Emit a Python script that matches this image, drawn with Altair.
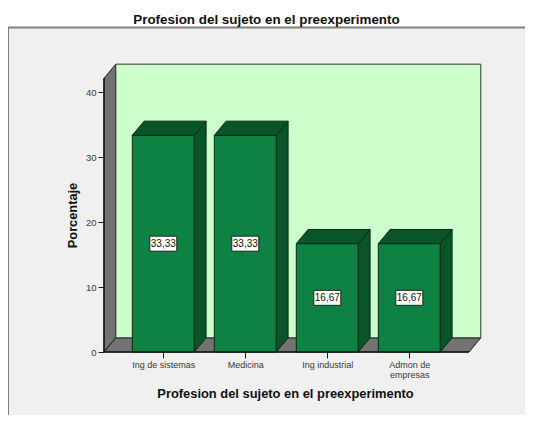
import json
import altair as alt
import pandas as pd

categories = ["Ing de sistemas", "Medicina", "Ing industrial", "Admon de empresas"]
tick_labels = [["Ing de sistemas"], ["Medicina"], ["Ing industrial"], ["Admon de", "empresas"]]
values = [33.33, 33.33, 16.67, 16.67]
value_labels = ["33,33", "33,33", "16,67", "16,67"]
y_ticks = [0, 10, 20, 30, 40]

PX = 82.0      # pixels per category
PY = 6.5       # pixels per percent
CX0 = 163.3    # pixel of first category
DX = 11.8 / PX  # 3D depth in x units
DY = 14.2 / PY  # 3D depth in y units
HALF = 31.0 / PX
XL = (104 - CX0) / PX
XR = (469 - CX0) / PX
YTOP = 42.1
BOXW = 13.5 / PX
BOXH = 7.5 / PY
PAGE_RIGHT = 525
PAGE_BOTTOM = 415

xs = alt.Scale(domain=[(8 - CX0) / PX, (PAGE_RIGHT - CX0) / PX], nice=False, zero=False)
ys = alt.Scale(domain=[(352 - PAGE_BOTTOM) / PY, (352 - 27) / PY], nice=False, zero=False)

GREY = "#737373"
EDGE = "#1a1a1a"
WALL = "#ccffcc"
FRONT = "#0d8243"
DARK = "#0a5429"
TEXT = "#3a3a3a"
LABEL_FONT = "Liberation Sans"

label_expr = json.dumps(tick_labels) + "[datum.value]"
x_axis = alt.Axis(title="Profesion del sujeto en el preexperimento",
                  values=[0, 1, 2, 3], labelExpr=label_expr, offset=-(PAGE_BOTTOM - 352),
                  domain=False, grid=False, tickColor=EDGE, tickSize=6,
                  labelFont=LABEL_FONT, labelFontSize=9, labelColor=TEXT, labelPadding=2,
                  labelLineHeight=10, labelOverlap=False,
                  titleFont="Liberation Sans", titleFontSize=12.9, titleFontWeight="bold",
                  titleColor="#111111", titleAlign="center", titleX=277, titleY=35)
y_axis = alt.Axis(title="Porcentaje", values=y_ticks, offset=-96, domain=False, grid=False,
                  tickColor=EDGE, tickSize=6, labelFont=LABEL_FONT, labelFontSize=9.5,
                  labelColor=TEXT, labelPadding=2, labelOverlap=False,
                  titleFont="Liberation Sans", titleFontSize=12.8, titleFontWeight="bold",
                  titleColor="#111111", titleX=-25, titleY=188, titleAlign="center")

X = lambda f="x": alt.X(f"{f}:Q", scale=xs, axis=x_axis)
Y = lambda f="y": alt.Y(f"{f}:Q", scale=ys, axis=y_axis)

bars = pd.DataFrame({
    "cat": categories, "i": range(4), "v": values, "lab": value_labels,
})
bars["x"] = bars.i - HALF
bars["x2"] = bars.i + HALF
bars["mid"] = bars.v / 2
bars["bx"] = bars.i - BOXW
bars["bx2"] = bars.i + BOXW
bars["by"] = bars.mid - BOXH
bars["by2"] = bars.mid + BOXH

side_rows, top_rows = [], []
for i, v in enumerate(values):
    side_rows += [
        {"c": i, "x": i + HALF, "y": 0, "y2": v},
        {"c": i, "x": i + HALF + DX, "y": DY, "y2": v + DY},
    ]
    top_rows += [
        {"c": i, "y": v, "x": i - HALF, "x2": i + HALF},
        {"c": i, "y": v + DY, "x": i - HALF + DX, "x2": i + HALF + DX},
    ]
side = pd.DataFrame(side_rows)
top = pd.DataFrame(top_rows)

left_wall = alt.Chart(pd.DataFrame({
    "x": [XL, XL + DX], "y": [0, DY], "y2": [YTOP, YTOP + DY],
})).mark_area(fill=GREY, stroke=EDGE, strokeWidth=1, orient="vertical").encode(
    x=X(), y=Y(), y2="y2:Q")

floor = alt.Chart(pd.DataFrame({
    "y": [0, DY], "x": [XL, XL + DX], "x2": [XR, XR + DX],
})).mark_area(fill=GREY, stroke=EDGE, strokeWidth=1, orient="horizontal").encode(
    y=Y(), x=X(), x2="x2:Q")

back = alt.Chart(pd.DataFrame({
    "x": [XL + DX], "x2": [XR + DX], "y": [DY], "y2": [YTOP + DY],
})).mark_rect(fill=WALL, stroke="#333333", strokeWidth=1).encode(
    x=X(), x2="x2:Q", y=Y(), y2="y2:Q")

front = alt.Chart(bars).mark_rect(fill=FRONT, stroke="#0a2a15", strokeWidth=1).encode(
    x=X(), x2="x2:Q", y=Y("v"), y2=alt.datum(0))

sides = alt.Chart(side).mark_area(fill=DARK, stroke="#0a2a15", strokeWidth=1, orient="vertical").encode(
    x=X(), y=Y(), y2="y2:Q", detail="c:N")

tops = alt.Chart(top).mark_area(fill=DARK, stroke="#0a2a15", strokeWidth=1, orient="horizontal").encode(
    y=Y(), x=X(), x2="x2:Q", detail="c:N")

boxes = alt.Chart(bars).mark_rect(fill="white", stroke="#222222", strokeWidth=1).encode(
    x=X("bx"), x2="bx2:Q", y=Y("by"), y2="by2:Q")

box_text = alt.Chart(bars).mark_text(font=LABEL_FONT, fontSize=10, color="#111111", baseline="middle").encode(
    x=X("i"), y=Y("mid"), text="lab:N")

axis_lines = alt.layer(
    alt.Chart(pd.DataFrame({"x": [XL], "x2": [XR], "y": [0]})).mark_rule(color=EDGE, strokeWidth=1.5).encode(
        x=X(), x2="x2:Q", y=Y()),
    alt.Chart(pd.DataFrame({"x": [XL], "y": [0], "y2": [YTOP]})).mark_rule(color=EDGE, strokeWidth=1.5).encode(
        x=X(), y=Y(), y2="y2:Q"),
)

frame = alt.layer(
    alt.Chart(pd.DataFrame({"x": [(8 - CX0) / PX], "y": [(352 - 27) / PY], "y2": [(352 - PAGE_BOTTOM) / PY]}))
    .mark_rule(color="#808080", strokeWidth=2).encode(x=X(), y=Y(), y2="y2:Q"),
    alt.Chart(pd.DataFrame({"x": [(8 - CX0) / PX], "x2": [(PAGE_RIGHT - CX0) / PX], "y": [(352 - 27.5) / PY]}))
    .mark_rule(color="#808080", strokeWidth=2).encode(x=X(), x2="x2:Q", y=Y()),
)

chart = alt.layer(
    frame, left_wall, floor, back, front, sides, tops, axis_lines, boxes, box_text,
).properties(
    width=PAGE_RIGHT - 8, height=PAGE_BOTTOM - 27,
    padding={"left": 0, "top": 19, "right": 0, "bottom": 0},
    autosize=alt.AutoSizeParams(type="none"),
    title=alt.TitleParams("Profesion del sujeto en el preexperimento", font="Liberation Sans",
                          fontSize=13.4, fontWeight="bold", color="#111111", anchor="middle",
                          dx=0, offset=0),
).configure_view(fill="#f0f0f0", stroke=None)

chart.save("out.html", embed_options={"renderer": "svg", "actions": False})
